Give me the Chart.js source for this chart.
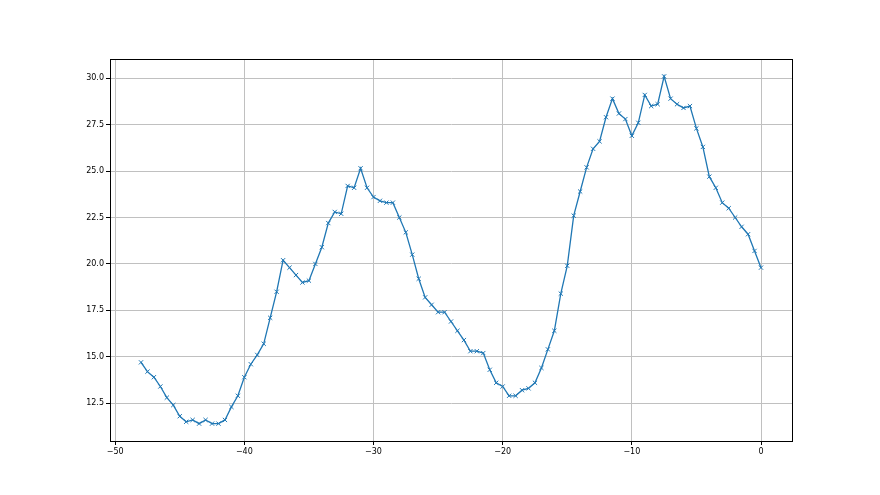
<!DOCTYPE html>
<html>
<head>
<meta charset="utf-8">
<script src="https://cdn.jsdelivr.net/npm/chart.js@4/dist/chart.umd.min.js"></script>
<style>
html,body{margin:0;padding:0;background:#fff;}
#wrap{width:880px;height:495px;position:relative;}
</style>
</head>
<body>
<div id="wrap"><canvas id="c" width="880" height="495"></canvas></div>
<script>
const xStart = -48;
const xStep = 0.5;
const yValues = [
  14.7, 14.2, 13.9, 13.4, 12.8, 12.4, 11.8, 11.5, 11.6, 11.4,
  11.6, 11.4, 11.4, 11.6, 12.3, 12.9, 13.9, 14.6, 15.1, 15.7,
  17.1, 18.5, 20.2, 19.8, 19.4, 19.0, 19.1, 20.0, 20.9, 22.2,
  22.8, 22.7, 24.2, 24.1, 25.15, 24.1, 23.6, 23.4, 23.3, 23.3,
  22.5, 21.7, 20.5, 19.2, 18.2, 17.8, 17.4, 17.4, 16.9, 16.4,
  15.9, 15.3, 15.3, 15.2, 14.3, 13.6, 13.4, 12.9, 12.9, 13.2,
  13.3, 13.6, 14.4, 15.4, 16.4, 18.4, 19.9, 22.6, 23.9, 25.2,
  26.2, 26.6, 27.9, 28.9, 28.1, 27.8, 26.9, 27.6, 29.1, 28.5,
  28.6, 30.1, 28.9, 28.6, 28.4, 28.5, 27.3, 26.3, 24.7, 24.1,
  23.3, 23.0, 22.5, 22.0, 21.6, 20.7, 19.8
];
const xValues = yValues.map((_, i) => xStart + i * xStep);
const xTicks = [-50, -40, -30, -20, -10, 0];
const yTicks = [12.5, 15.0, 17.5, 20.0, 22.5, 25.0, 27.5, 30.0];

const points = xValues.map((x, i) => ({x: x, y: yValues[i]}));

const frame = {
  id: 'frame',
  afterDraw(chart) {
    const a = chart.chartArea, ctx = chart.ctx;
    ctx.save();
    ctx.strokeStyle = '#000';
    ctx.lineWidth = 1;
    ctx.strokeRect(Math.round(a.left) + 0.5, Math.round(a.top) + 0.5,
                   Math.round(a.right - a.left), Math.round(a.bottom - a.top));
    ctx.restore();
  }
};

new Chart(document.getElementById('c'), {
  type: 'scatter',
  data: {
    datasets: [{
      data: points,
      showLine: true,
      borderColor: '#1f77b4',
      backgroundColor: '#1f77b4',
      borderWidth: 1.3,
      pointStyle: 'crossRot',
      pointRadius: 3,
      pointBorderWidth: 1,
      pointBorderColor: '#1f77b4',
      tension: 0
    }]
  },
  options: {
    responsive: false,
    animation: false,
    devicePixelRatio: 1,
    layout: {padding: {left: 0, top: 59, right: 88, bottom: 0}},
    plugins: {legend: {display: false}, tooltip: {enabled: false}},
    scales: {
      x: {
        type: 'linear',
        min: -50.4,
        max: 2.4,
        afterBuildTicks(s) { s.ticks = xTicks.map(v => ({value: v})); },
        afterFit(s) { s.height = 54; },
        grid: {color: '#c0c0c0', lineWidth: 1, tickLength: 4, tickColor: '#000', drawTicks: true},
        border: {color: '#000', width: 1},
        ticks: {
          color: '#000',
          font: {family: 'DejaVu Sans', size: 8},
          padding: 2,
          maxRotation: 0,
          callback: v => String(v).replace('-', '\u2212')
        }
      },
      y: {
        type: 'linear',
        min: 10.465,
        max: 31.035,
        afterBuildTicks(s) { s.ticks = yTicks.map(v => ({value: v})); },
        afterFit(s) { s.width = 110; },
        grid: {color: '#c0c0c0', lineWidth: 1, tickLength: 4, tickColor: '#000', drawTicks: true},
        border: {color: '#000', width: 1},
        ticks: {
          color: '#000',
          font: {family: 'DejaVu Sans', size: 8},
          padding: 2,
          callback: v => v.toFixed(1)
        }
      }
    }
  },
  plugins: [frame]
});
</script>
</body>
</html>
